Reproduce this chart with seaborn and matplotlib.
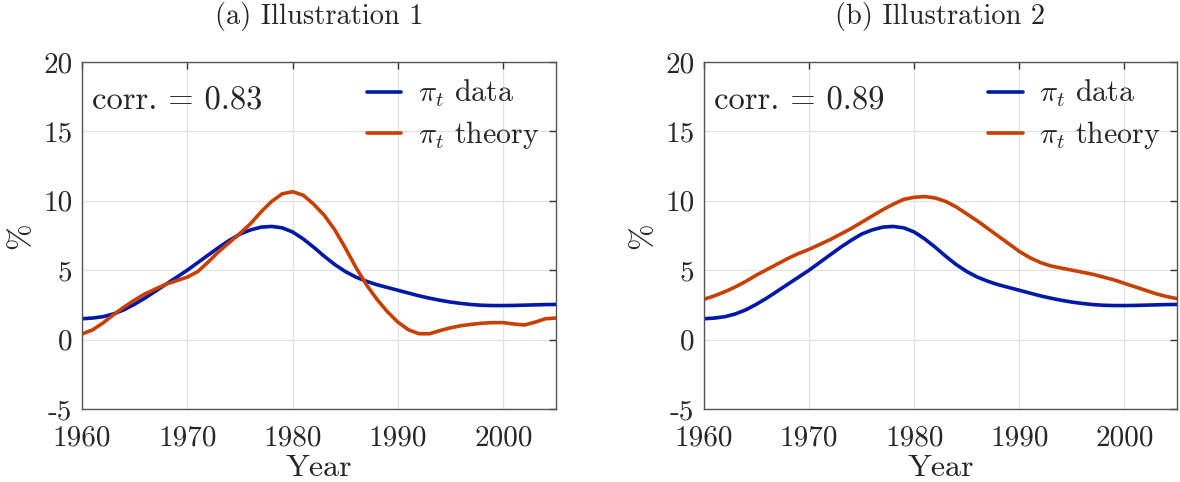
import numpy as np
import pandas as pd
import matplotlib
matplotlib.use("Agg")
import matplotlib.pyplot as plt
import seaborn as sns

years = list(range(1960, 2006))

pi_data = [1.5, 1.55, 1.65, 1.85, 2.15, 2.55, 3.0, 3.5, 4.0, 4.5,
           5.0, 5.55, 6.1, 6.65, 7.15, 7.6, 7.9, 8.1, 8.15, 8.05,
           7.75, 7.25, 6.65, 6.0, 5.4, 4.9, 4.5, 4.2, 3.95, 3.75,
           3.55, 3.35, 3.15, 2.98, 2.83, 2.7, 2.6, 2.52, 2.47, 2.45,
           2.45, 2.46, 2.48, 2.5, 2.52, 2.53]

pi_theory_1 = [0.4, 0.7, 1.2, 1.8, 2.35, 2.85, 3.3, 3.65, 4.0, 4.25,
               4.5, 4.9, 5.6, 6.35, 7.0, 7.65, 8.35, 9.2, 9.95, 10.5,
               10.65, 10.4, 9.75, 8.95, 7.9, 6.6, 5.2, 3.95, 2.9, 2.0,
               1.25, 0.7, 0.42, 0.42, 0.65, 0.85, 1.0, 1.1, 1.18, 1.22,
               1.22, 1.12, 1.05, 1.25, 1.5, 1.55]

pi_theory_2 = [2.9, 3.15, 3.45, 3.8, 4.2, 4.65, 5.05, 5.45, 5.85, 6.2,
               6.5, 6.85, 7.2, 7.6, 8.0, 8.45, 8.9, 9.35, 9.75, 10.1,
               10.25, 10.3, 10.2, 9.95, 9.55, 9.05, 8.55, 8.0, 7.45, 6.9,
               6.35, 5.9, 5.55, 5.3, 5.15, 5.0, 4.85, 4.7, 4.5, 4.3,
               4.05, 3.8, 3.55, 3.3, 3.1, 2.95]

titles = ["(a) Illustration 1", "(b) Illustration 2"]
corrs = ["0.83", "0.89"]
series_labels = [r"$\pi_t$ data", r"$\pi_t$ theory"]
x_ticks = [1960, 1970, 1980, 1990, 2000]
y_ticks = [-5, 0, 5, 10, 15, 20]

sns.set_theme(style="white")
plt.rcParams.update({
    "font.family": "cmr10",
    "mathtext.fontset": "cm",
    "axes.unicode_minus": False,
    "axes.formatter.use_mathtext": False,
})

palette = {series_labels[0]: "#0018a8", series_labels[1]: "#c84000"}

fig = plt.figure(figsize=(11.8, 4.82), dpi=100)
positions = [[0.0695, 0.1515, 0.4017, 0.72], [0.5966, 0.1515, 0.4009, 0.72]]

for i, theory in enumerate([pi_theory_1, pi_theory_2]):
    ax = fig.add_axes(positions[i])
    df = pd.DataFrame({
        "Year": years * 2,
        "value": pi_data + theory,
        "series": [series_labels[0]] * len(years) + [series_labels[1]] * len(years),
    })
    sns.lineplot(data=df, x="Year", y="value", hue="series", palette=palette,
                 linewidth=2.6, ax=ax)
    ax.set_xlim(1960, 2005)
    ax.set_ylim(-5, 20)
    ax.set_xticks(x_ticks)
    ax.set_yticks(y_ticks)
    ax.set_xticklabels([str(t) for t in x_ticks])
    ax.set_yticklabels([str(t) for t in y_ticks])
    ax.grid(True, color="#e3e3e3", linewidth=0.9)
    ax.set_axisbelow(True)
    for s in ax.spines.values():
        s.set_color("#555555")
        s.set_linewidth(1.0)
    ax.tick_params(direction="in", length=5, width=1.0, color="#333333",
                   top=True, right=True, labelsize=21)
    ax.tick_params(axis="x", pad=12)
    ax.tick_params(axis="y", pad=7)
    ax.set_xlabel("Year", fontsize=23, labelpad=2)
    ax.set_ylabel("%", fontsize=23, labelpad=6)
    ax.set_title(titles[i], fontsize=20.5, pad=27)
    ax.text(0.022, 0.888, "corr. = " + corrs[i], transform=ax.transAxes,
            fontsize=23.5, va="center", ha="left")
    ax.legend(loc="upper right", frameon=False, fontsize=21.5, handlelength=1.15,
              handletextpad=0.55, labelspacing=0.33, borderaxespad=0.25,
              borderpad=0.3)

fig.savefig("out.png", dpi=100)
